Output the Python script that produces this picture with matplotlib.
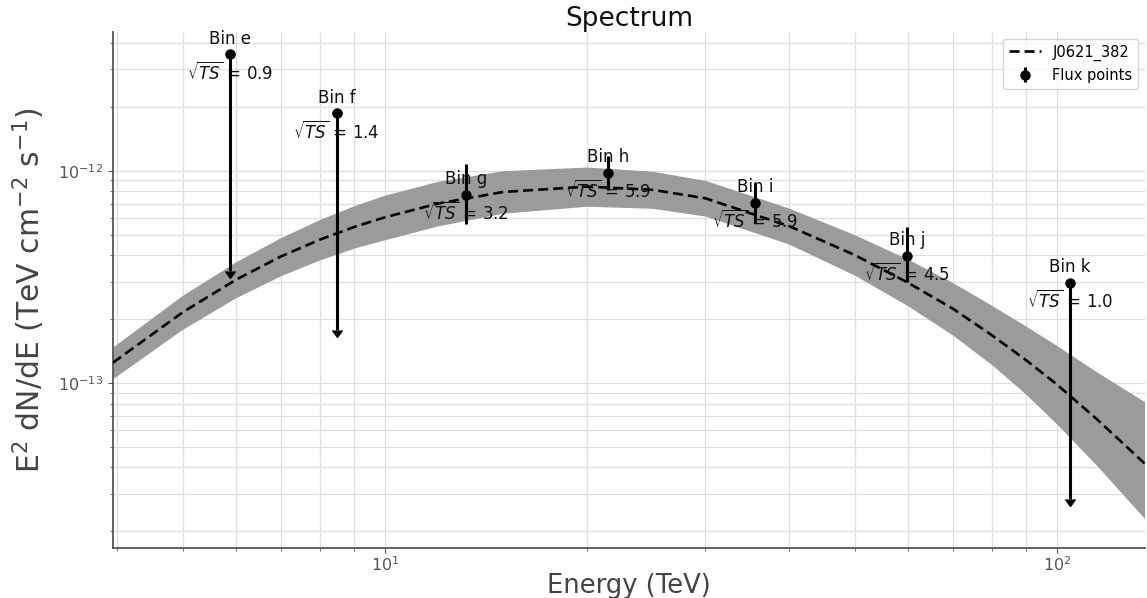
import numpy as np
import matplotlib
matplotlib.use("Agg")
import matplotlib.pyplot as plt

# ---------------- data ----------------
# model curve (dashed) and its uncertainty band
model_energy = [3.94, 5, 6, 7, 8, 9, 10, 12, 15, 20, 25, 30, 40, 50, 60, 70, 80, 90, 100, 115, 135]
model_flux = [1.247e-13, 2.15e-13, 3.06e-13, 3.94e-13, 4.73e-13, 5.43e-13, 6.03e-13, 7.00e-13,
              7.94e-13, 8.41e-13, 8.13e-13, 7.41e-13, 5.47e-13, 4.01e-13, 2.97e-13, 2.24e-13,
              1.68e-13, 1.28e-13, 9.84e-14, 6.70e-14, 4.18e-14]
band_upper = [1.48e-13, 2.59e-13, 3.72e-13, 4.84e-13, 5.89e-13, 6.84e-13, 7.67e-13, 8.91e-13,
              1.00e-12, 1.04e-12, 9.94e-13, 8.99e-13, 6.65e-13, 4.99e-13, 3.83e-13, 2.97e-13,
              2.32e-13, 1.85e-13, 1.50e-13, 1.12e-13, 8.17e-14]
band_lower = [1.05e-13, 1.79e-13, 2.52e-13, 3.20e-13, 3.80e-13, 4.32e-13, 4.73e-13, 5.50e-13,
              6.31e-13, 6.80e-13, 6.65e-13, 6.11e-13, 4.50e-13, 3.22e-13, 2.31e-13, 1.68e-13,
              1.22e-13, 8.83e-14, 6.40e-14, 4.04e-14, 2.30e-14]

# flux points with errors
pt_names = ["g", "h", "i", "j"]
pt_energy = [13.19, 21.5, 35.6, 59.9]
pt_flux = [7.7e-13, 9.8e-13, 7.06e-13, 3.97e-13]
pt_flux_hi = [1.07e-12, 1.17e-12, 8.78e-13, 5.44e-13]
pt_flux_lo = [5.62e-13, 8.14e-13, 5.69e-13, 3.0e-13]
pt_sqrt_ts = ["3.2", "5.9", "5.9", "4.5"]

# upper limits
ul_names = ["e", "f", "k"]
ul_energy = [5.88, 8.48, 104.5]
ul_flux = [3.53e-12, 1.86e-12, 2.96e-13]
ul_arrow_end = [3.37e-13, 1.78e-13, 2.84e-14]
ul_sqrt_ts = ["0.9", "1.4", "1.0"]

# ---------------- figure ----------------
fig = plt.figure(figsize=(11.47, 5.98), dpi=100)
ax = fig.add_axes([0.0985, 0.0836, 0.8997, 0.8629])
ax.set_xscale("log")
ax.set_yscale("log")
ax.set_xlim(3.94, 135.2)
ax.set_ylim(1.67e-14, 4.5e-12)

ax.grid(True, which="both", color="#dedede", lw=0.9, zorder=0)
ax.set_axisbelow(True)

ax.fill_between(model_energy, band_lower, band_upper, color="#9b9b9b", lw=0, zorder=2)
ax.plot(model_energy, model_flux, color="black", lw=1.9, dashes=(3.8, 1.9),
        zorder=3, label="J0621_382")

pf = np.array(pt_flux)
ax.errorbar(pt_energy, pf, yerr=[pf - np.array(pt_flux_lo), np.array(pt_flux_hi) - pf],
            fmt="o", color="black", ms=6.5, elinewidth=2.2, capsize=0, zorder=4,
            label="Flux points")

uf = np.array(ul_flux)
ax.errorbar(ul_energy, uf, yerr=[uf - np.array(ul_arrow_end), np.zeros_like(uf)],
            uplims=True, fmt="o", color="black", ms=6.5, elinewidth=2.2, capsize=3.5,
            zorder=4)

def label_bin(name, e, y, ts):
    ax.annotate(f"Bin {name}", (e, y), xytext=(0, 11.2), textcoords="offset points",
                ha="center", va="center", fontsize=12, color="#111111", zorder=5)
    ax.annotate(r"$\sqrt{TS}$ = " + ts, (e, y), xytext=(0, -13), textcoords="offset points",
                ha="center", va="center", fontsize=12, color="#111111", zorder=5)

for n, e, y, t in zip(ul_names, ul_energy, ul_flux, ul_sqrt_ts):
    label_bin(n, e, y, t)
for n, e, y, t in zip(pt_names, pt_energy, pt_flux, pt_sqrt_ts):
    label_bin(n, e, y, t)

ax.set_title("Spectrum", fontsize=19, pad=3, color="#111111")
ax.set_xlabel("Energy (TeV)", fontsize=18.5, color="#444444", labelpad=-1)
ax.set_ylabel(r"E$^2$ dN/dE (TeV cm$^{-2}$ s$^{-1}$)", fontsize=21.5, color="#444444",
              labelpad=8)

for s in ["top", "right"]:
    ax.spines[s].set_visible(False)
for s in ["left", "bottom"]:
    ax.spines[s].set_color("#555555")
    ax.spines[s].set_linewidth(1.3)

ax.tick_params(which="both", colors="#555555", labelsize=11.5)
ax.tick_params(axis="x", which="both", pad=2)

leg = ax.legend(loc="upper right", fontsize=10.5, frameon=True, borderaxespad=0.45,
                handlelength=2.2)
leg.get_frame().set_edgecolor("#cccccc")

fig.savefig("out.png", dpi=100)
